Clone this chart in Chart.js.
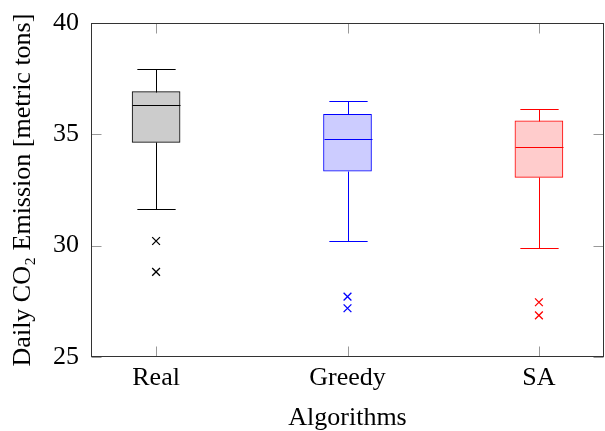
<!DOCTYPE html>
<html>
<head>
<meta charset="utf-8">
<script src="https://cdn.jsdelivr.net/npm/chart.js@4"></script>
<style>
  html, body { margin: 0; padding: 0; background: #fff; overflow: hidden; }
  #wrap { width: 605px; height: 431px; overflow: hidden; }
  canvas { display: block; }
</style>
</head>
<body>
<div id="wrap"><canvas id="chart"></canvas></div>
<script>
// data
const categories = ['Real', 'Greedy', 'SA'];
const whiskerLow = [31.66, 30.20, 29.91];
const q1 = [34.64, 33.35, 33.07];
const median = [36.30, 34.79, 34.45];
const q3 = [36.92, 35.90, 35.61];
const whiskerHigh = [37.93, 36.51, 36.12];
const outliers = [[30.21, 28.82], [27.71, 27.19], [27.46, 26.87]];
const yTicks = [25, 30, 35, 40];

const lineColors = ['#000000', '#0000ff', '#ff0000'];
const fillColors = ['#cccccc', '#ccccff', '#ffcccc'];
const serif = '"Liberation Serif", "DejaVu Serif", serif';

// whiskers + median lines
const boxExtras = {
  id: 'boxExtras',
  afterDatasetsDraw(chart) {
    const ctx = chart.ctx;
    const xs = chart.scales.x, ys = chart.scales.y;
    categories.forEach((c, i) => {
      const x = Math.round(xs.getPixelForValue(i + 1)) + 0.5;
      const capHalf = (xs.getPixelForValue(1.1) - xs.getPixelForValue(0.9)) / 2;
      const boxHalf = 24;
      const py = v => Math.round(ys.getPixelForValue(v)) + 0.5;
      ctx.save();
      ctx.strokeStyle = lineColors[i];
      ctx.lineWidth = 1;
      ctx.beginPath();
      ctx.moveTo(x, py(q3[i])); ctx.lineTo(x, py(whiskerHigh[i]));
      ctx.moveTo(x, py(q1[i])); ctx.lineTo(x, py(whiskerLow[i]));
      ctx.moveTo(x - capHalf, py(whiskerHigh[i])); ctx.lineTo(x + capHalf, py(whiskerHigh[i]));
      ctx.moveTo(x - capHalf, py(whiskerLow[i])); ctx.lineTo(x + capHalf, py(whiskerLow[i]));
      ctx.moveTo(x - boxHalf, py(median[i])); ctx.lineTo(x + boxHalf, py(median[i]));
      ctx.stroke();
      ctx.restore();
    });
  }
};

// pgfplots style frame with inward ticks
const frame = {
  id: 'frame',
  afterDraw(chart) {
    const ctx = chart.ctx;
    const a = chart.chartArea;
    const xs = chart.scales.x, ys = chart.scales.y;
    const L = Math.round(a.left) + 0.5, R = Math.round(a.right) - 0.5;
    const T = Math.round(a.top) + 0.5, B = Math.round(a.bottom) - 0.5;
    ctx.save();
    ctx.strokeStyle = '#999999';
    ctx.lineWidth = 1;
    ctx.beginPath();
    ys.ticks.forEach(t => {
      const y = Math.round(ys.getPixelForValue(t.value)) + 0.5;
      ctx.moveTo(L, y); ctx.lineTo(L + 10, y);
      ctx.moveTo(R, y); ctx.lineTo(R - 10, y);
    });
    xs.ticks.forEach(t => {
      const x = Math.round(xs.getPixelForValue(t.value)) + 0.5;
      ctx.moveTo(x, T); ctx.lineTo(x, T + 10);
      ctx.moveTo(x, B); ctx.lineTo(x, B - 10);
    });
    ctx.stroke();
    ctx.strokeStyle = '#333333';
    ctx.strokeRect(L, T, R - L, B - T);
    ctx.restore();
  }
};

const outlierPoints = [];
outliers.forEach((list, i) => list.forEach(v => outlierPoints.push({ x: i + 1, y: v })));

new Chart(document.getElementById('chart'), {
  type: 'bar',
  data: {
    datasets: [{
      label: 'box',
      data: categories.map((c, i) => ({ x: i + 1, y: [q1[i], q3[i]] })),
      backgroundColor: fillColors,
      borderColor: lineColors,
      borderWidth: 1,
      borderSkipped: false,
      barThickness: 48
    }, {
      type: 'scatter',
      label: 'outliers',
      data: outlierPoints,
      pointStyle: 'crossRot',
      pointRadius: 5.5,
      pointBorderWidth: 1.3,
      pointBorderColor: outlierPoints.map(p => lineColors[p.x - 1])
    }]
  },
  options: {
    responsive: true,
    maintainAspectRatio: false,
    animation: false,
    layout: { autoPadding: false, padding: { top: 23, right: 1, left: 0, bottom: 0 } },
    plugins: { legend: { display: false }, tooltip: { enabled: false } },
    scales: {
      x: {
        type: 'linear',
        min: 0.66,
        max: 3.34,
        offset: false,
        afterBuildTicks: s => { s.ticks = categories.map((c, i) => ({ value: i + 1 })); },
        afterFit: s => { s.height = 74; s.paddingLeft = 0; s.paddingRight = 0; },
        grid: { display: false, drawTicks: false },
        border: { display: false },
        ticks: {
          padding: 6,
          color: '#000',
          font: { family: serif, size: 26 },
          maxRotation: 0,
          callback: v => categories[v - 1]
        },
        title: {
          display: true,
          text: 'Algorithms',
          color: '#000',
          font: { family: serif, size: 26, lineHeight: 1 },
          padding: 0
        }
      },
      y: {
        min: 25,
        max: 40,
        afterBuildTicks: s => { s.ticks = yTicks.map(v => ({ value: v })); },
        afterFit: s => { s.width = 91; s.paddingTop = 0; s.paddingBottom = 0; },
        grid: { display: false, drawTicks: false },
        border: { display: false },
        ticks: {
          padding: 12,
          color: '#000',
          font: { family: serif, size: 26 }
        },
        title: {
          display: true,
          text: 'Daily CO\u2082 Emission [metric tons]',
          color: '#000',
          font: { family: serif, size: 26, lineHeight: 1 },
          padding: { top: 10, bottom: 0 }
        }
      }
    }
  },
  plugins: [boxExtras, frame]
});
</script>
</body>
</html>
